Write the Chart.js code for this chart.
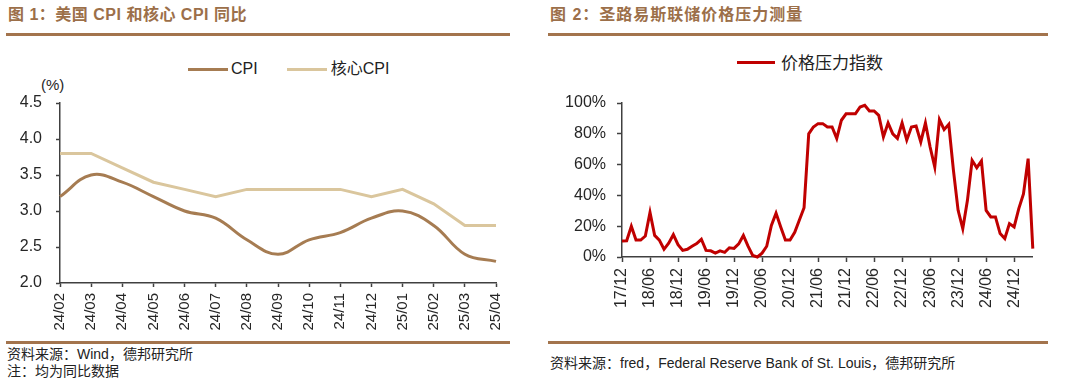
<!DOCTYPE html>
<html lang="zh-CN">
<head>
    <meta charset="UTF-8">
    <title>美国 CPI 和核心 CPI 同比 / 圣路易斯联储价格压力测量</title>
    <script src="https://cdn.jsdelivr.net/npm/chart.js"></script>
    <style>
        body {
            margin: 0;
            width: 1080px;
            height: 391px;
            position: relative;
            overflow: hidden;
            background: #ffffff;
            color: #222;
            font-family: "Liberation Sans", Arial, "Noto Sans CJK SC", sans-serif;
        }
        /* titles and brown rules */
        .title {
            position: absolute;
            top: 5px;
            line-height: 20px;
            font-size: 16px;
            font-weight: bold;
            letter-spacing: 1px;
            color: #9c6f49;
        }
        .rule { position: absolute; height: 3px; background: #a3744d; }
        .src { position: absolute; font-size: 14px; line-height: 17px; color: #222; white-space: nowrap; }
        .cjk { font-family: "Noto Sans CJK SC", sans-serif; }
        /* legends */
        .legend { position: absolute; display: flex; align-items: center; white-space: nowrap; }
        .swatch { display: inline-block; height: 3px; }
        .unit { position: absolute; font-size: 15px; line-height: 16px; color: #262626; }
        canvas { position: absolute; }
    </style>
</head>
<body>
    <!-- left panel -->
    <div class="title" style="left:8px; letter-spacing:0.5px;">图 1：美国 CPI 和核心 CPI 同比</div>
    <div class="rule" style="left:6px; top:33px; width:504px;"></div>

    <div class="legend" style="left:188px; top:59px; font-size:16px; line-height:20px;">
        <span class="swatch" style="width:40px; background:#a67c52;"></span>
        <span style="margin-left:3px;">CPI</span>
        <span class="swatch" style="width:40px; background:#dac69d; margin-left:29px;"></span>
        <span style="margin-left:4px;">核心CPI</span>
    </div>
    <div class="unit" style="left:41px; top:77px;">(%)</div>
    <canvas id="cpiChart" width="520" height="290" style="left:0px; top:40px;"></canvas>

    <div class="rule" style="left:6px; top:341px; width:504px;"></div>
    <div class="src" style="left:7px; top:345px;"><span class="cjk">资料来源：</span>Wind<span class="cjk">，德邦研究所</span></div>
    <div class="src cjk" style="left:7px; top:362px;">注：均为同比数据</div>

    <!-- right panel -->
    <div class="title" style="left:550px;">图 2：圣路易斯联储价格压力测量</div>
    <div class="rule" style="left:548px; top:33px; width:500px;"></div>

    <div class="legend" style="left:737px; top:51px; font-size:17px; line-height:22px;">
        <span class="swatch" style="width:38px; background:#c00000;"></span>
        <span class="cjk" style="margin-left:6px;">价格压力指数</span>
    </div>
    <canvas id="ppmChart" width="510" height="290" style="left:548px; top:40px;"></canvas>

    <div class="rule" style="left:548px; top:341px; width:500px;"></div>
    <div class="src" style="left:550px; top:354px;"><span class="cjk">资料来源：</span>fred<span class="cjk">，</span>Federal Reserve Bank of St. Louis<span class="cjk">，德邦研究所</span></div>

    <script>
        // ---- chart 1: US CPI vs core CPI (yoy, %) ----
        const cpiMonths = ['24/02', '24/03', '24/04', '24/05', '24/06', '24/07', '24/08', '24/09',
                           '24/10', '24/11', '24/12', '25/01', '25/02', '25/03', '25/04'];
        const cpiValues = [3.2, 3.5, 3.4, 3.2, 3.0, 2.9, 2.6, 2.4, 2.6, 2.7, 2.9, 3.0, 2.8, 2.4, 2.3];
        const coreCpiValues = [3.8, 3.8, 3.6, 3.4, 3.3, 3.2, 3.3, 3.3, 3.3, 3.3, 3.2, 3.3, 3.1, 2.8, 2.8];
        const cpiTicks = [2.0, 2.5, 3.0, 3.5, 4.0, 4.5];

        // ---- chart 2: St. Louis Fed price pressure measure (%) ----
        const ppmMonths = [
            '17/12',
            '18/01', '18/02', '18/03', '18/04', '18/05', '18/06', '18/07', '18/08', '18/09', '18/10', '18/11', '18/12',
            '19/01', '19/02', '19/03', '19/04', '19/05', '19/06', '19/07', '19/08', '19/09', '19/10', '19/11', '19/12',
            '20/01', '20/02', '20/03', '20/04', '20/05', '20/06', '20/07', '20/08', '20/09', '20/10', '20/11', '20/12',
            '21/01', '21/02', '21/03', '21/04', '21/05', '21/06', '21/07', '21/08', '21/09', '21/10', '21/11', '21/12',
            '22/01', '22/02', '22/03', '22/04', '22/05', '22/06', '22/07', '22/08', '22/09', '22/10', '22/11', '22/12',
            '23/01', '23/02', '23/03', '23/04', '23/05', '23/06', '23/07', '23/08', '23/09', '23/10', '23/11', '23/12',
            '24/01', '24/02', '24/03', '24/04', '24/05', '24/06', '24/07', '24/08', '24/09', '24/10', '24/11', '24/12',
            '25/01', '25/02', '25/03', '25/04'
        ];
        const ppmValues = [
            10.4,
            10.5, 20, 11, 11, 13.6, 29, 14, 11, 5, 9, 14.5, 8,
            4.3, 5, 7, 8.7, 11.5, 4.3, 4, 2.6, 4, 3, 6, 5.6,
            8.5, 14, 7, 1, 0, 2.5, 7, 20.5, 28.5, 19.5, 11, 11,
            16, 24, 32, 80, 84.4, 86.6, 86.6, 84.4, 84.4, 77, 88.8, 93,
            93, 93, 97.4, 98.5, 94.8, 94.8, 92, 78, 87, 80, 77, 87,
            76, 84.4, 85, 74.7, 87, 71.4, 58.4, 89.2, 82.7, 86.2, 56.3, 30.3,
            18.4, 36.8, 62.8, 58, 62.4, 30.3, 26, 26, 15.2, 12, 21.7, 19.5,
            31.4, 41, 63.9, 5.4
        ];
        const ppmTickLabels = ['17/12', '18/06', '18/12', '19/06', '19/12', '20/06', '20/12', '21/06',
                               '21/12', '22/06', '22/12', '23/06', '23/12', '24/06', '24/12'];
        const ppmTicks = [0, 20, 40, 60, 80, 100];

        const axisColor = '#404040';
        const textColor = '#262626';
        const latin = '"Liberation Sans", Arial, sans-serif';

        Chart.defaults.animation = false;
        Chart.defaults.font.family = latin;
        Chart.defaults.plugins.legend.display = false;
        Chart.defaults.plugins.tooltip.enabled = false;

        // CPI chart
        new Chart(document.getElementById('cpiChart'), {
            type: 'line',
            data: {
                labels: cpiMonths,
                datasets: [{
                    label: 'CPI',
                    data: cpiValues,
                    borderColor: '#a67c52',
                    borderWidth: 3,
                    pointRadius: 0,
                    tension: 0.4,
                    fill: false
                }, {
                    label: '核心CPI',
                    data: coreCpiValues,
                    borderColor: '#dac69d',
                    borderWidth: 3,
                    pointRadius: 0,
                    tension: 0,
                    fill: false
                }]
            },
            options: {
                responsive: false,
                devicePixelRatio: 1,
                layout: { padding: { left: 0, right: 22, top: 63, bottom: 0 } },
                scales: {
                    x: {
                        offset: false,
                        grid: { drawOnChartArea: false, tickLength: 4, tickColor: axisColor, tickWidth: 1.5 },
                        border: { color: axisColor, width: 1.5 },
                        ticks: { autoSkip: false, minRotation: 90, maxRotation: 90, padding: 6,
                                 color: textColor, font: { size: 15 } },
                        afterFit: s => { s.height = 47; }
                    },
                    y: {
                        min: 2, max: 4.5,
                        grid: { drawOnChartArea: false, tickLength: 4, tickColor: axisColor, tickWidth: 1.5 },
                        border: { color: axisColor, width: 1.5 },
                        ticks: { padding: 14, color: textColor, font: { size: 16 },
                                 callback: v => Number(v).toFixed(1) },
                        afterBuildTicks: s => { s.ticks = cpiTicks.map(v => ({ value: v })); },
                        afterFit: s => { s.width = 60; }
                    }
                }
            }
        });

        // Price pressure chart
        new Chart(document.getElementById('ppmChart'), {
            type: 'line',
            data: {
                labels: ppmMonths,
                datasets: [{
                    label: '价格压力指数',
                    data: ppmValues,
                    borderColor: '#c00000',
                    borderWidth: 3,
                    pointRadius: 0,
                    tension: 0,
                    fill: false,
                    clip: false
                }]
            },
            options: {
                responsive: false,
                devicePixelRatio: 1,
                layout: { padding: { left: 0, right: 10, top: 63, bottom: 0 } },
                scales: {
                    x: {
                        offset: false,
                        grid: {
                            drawOnChartArea: false, tickLength: 5, tickWidth: 1.5,
                            tickColor: ctx => ppmTickLabels.includes(ppmMonths[ctx.index]) ? axisColor : 'rgba(0,0,0,0)'
                        },
                        border: { color: axisColor, width: 1.5 },
                        ticks: {
                            autoSkip: false, minRotation: 90, maxRotation: 90, padding: 6,
                            color: textColor, font: { size: 16 },
                            callback: function (v) {
                                const lab = this.getLabelForValue(v);
                                return ppmTickLabels.includes(lab) ? lab : '';
                            }
                        },
                        afterFit: s => { s.height = 73; }
                    },
                    y: {
                        min: 0, max: 100,
                        grid: { drawOnChartArea: false, tickLength: 5, tickColor: axisColor, tickWidth: 1.5 },
                        border: { color: axisColor, width: 1.5 },
                        ticks: { padding: 11, color: textColor, font: { size: 16 }, callback: v => v + '%' },
                        afterBuildTicks: s => { s.ticks = ppmTicks.map(v => ({ value: v })); },
                        afterFit: s => { s.width = 74; }
                    }
                }
            }
        });
    </script>
</body>
</html>
